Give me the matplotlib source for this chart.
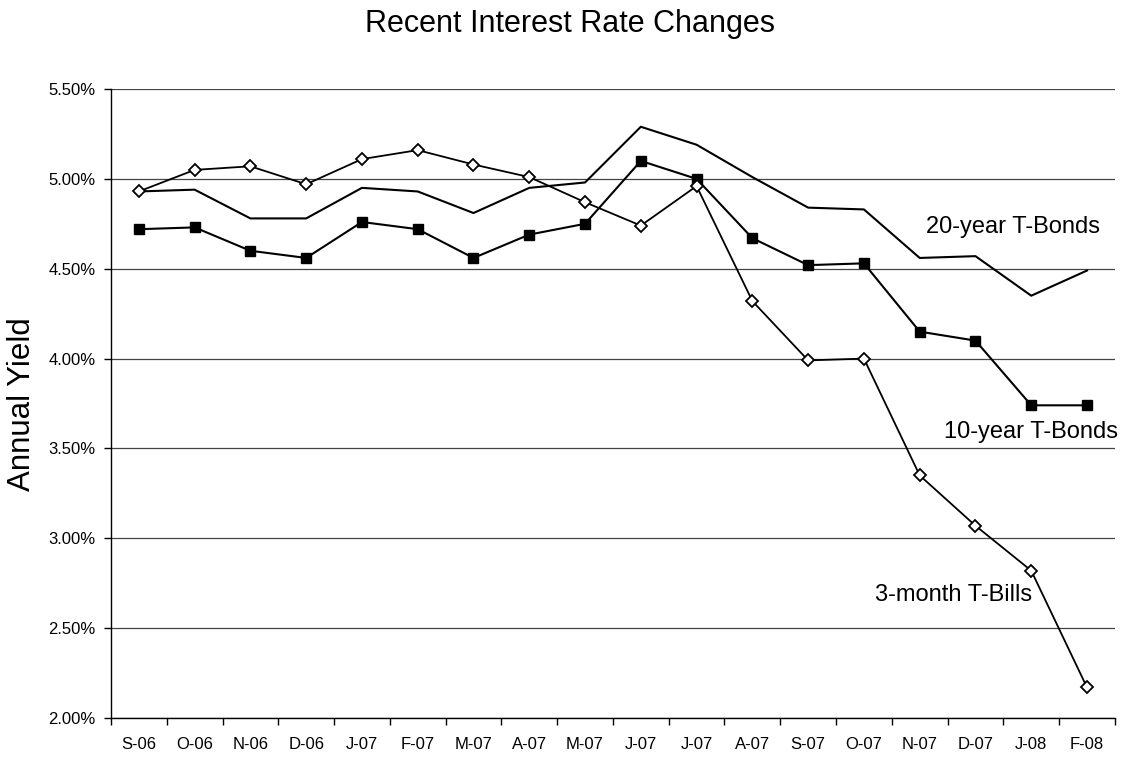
import matplotlib
matplotlib.use("Agg")
import matplotlib.pyplot as plt
import numpy as np
from matplotlib.ticker import FuncFormatter, FixedLocator

plt.rcParams["font.family"] = ["Liberation Sans", "DejaVu Sans"]

months = ["S-06", "O-06", "N-06", "D-06", "J-07", "F-07", "M-07", "A-07", "M-07",
          "J-07", "J-07", "A-07", "S-07", "O-07", "N-07", "D-07", "J-08", "F-08"]
bills_3m = [4.93, 5.05, 5.07, 4.97, 5.11, 5.16, 5.08, 5.01, 4.87,
            4.74, 4.96, 4.32, 3.99, 4.00, 3.35, 3.07, 2.82, 2.17]
bonds_10y = [4.72, 4.73, 4.60, 4.56, 4.76, 4.72, 4.56, 4.69, 4.75,
             5.10, 5.00, 4.67, 4.52, 4.53, 4.15, 4.10, 3.74, 3.74]
bonds_20y = [4.93, 4.94, 4.78, 4.78, 4.95, 4.93, 4.81, 4.95, 4.98,
             5.29, 5.19, 5.01, 4.84, 4.83, 4.56, 4.57, 4.35, 4.49]
yticks = [2.0, 2.5, 3.0, 3.5, 4.0, 4.5, 5.0, 5.5]

fig = plt.figure(figsize=(11.23, 7.57), dpi=100)
ax = fig.add_axes([0.0988, 0.0515, 0.894, 0.8309])

x = np.arange(len(months))
ax.plot(x, bonds_20y, "-", color="black", lw=1.5, zorder=3)
ax.plot(x, bonds_10y, "s-", color="black", lw=1.5, ms=7.5, zorder=4)
ax.plot(x, bills_3m, "D-", color="black", lw=1.3, ms=6, mfc="white",
        mec="black", mew=1.3, zorder=5)

ax.set_xlim(-0.5, len(months) - 0.5)
ax.set_ylim(2.0, 5.5)
ax.set_yticks(yticks)
ax.yaxis.set_major_formatter(FuncFormatter(lambda v, p: f"{v:.2f}%"))
ax.grid(axis="y", color="#444444", lw=0.9, zorder=1)

ax.set_xticks(x)
ax.set_xticklabels(months)
ax.xaxis.set_minor_locator(FixedLocator(np.arange(-0.5, len(months), 1.0)))
ax.tick_params(axis="x", which="major", length=0, pad=14, labelsize=12)
ax.tick_params(axis="x", which="minor", length=5, width=1, direction="out")
ax.tick_params(axis="y", length=5, width=1, direction="out", labelsize=12, pad=6)

for s in ["top", "right"]:
    ax.spines[s].set_visible(False)
for s in ["left", "bottom"]:
    ax.spines[s].set_linewidth(1.0)

fig.text(22 / 1123, 1 - 404 / 757, "Annual Yield", fontsize=22.5,
         rotation=90, ha="center", va="center")
fig.text(570 / 1123, 1 - 32 / 757, "Recent Interest Rate Changes",
         fontsize=22, ha="center", va="baseline")

ax.text(17.23, 4.735, "20-year T-Bonds", fontsize=17, ha="right", va="center")
ax.text(17.55, 3.59, "10-year T-Bonds", fontsize=17, ha="right", va="center")
ax.text(16.01, 2.687, "3-month T-Bills", fontsize=17, ha="right", va="center")

fig.savefig("out.png", dpi=100)
